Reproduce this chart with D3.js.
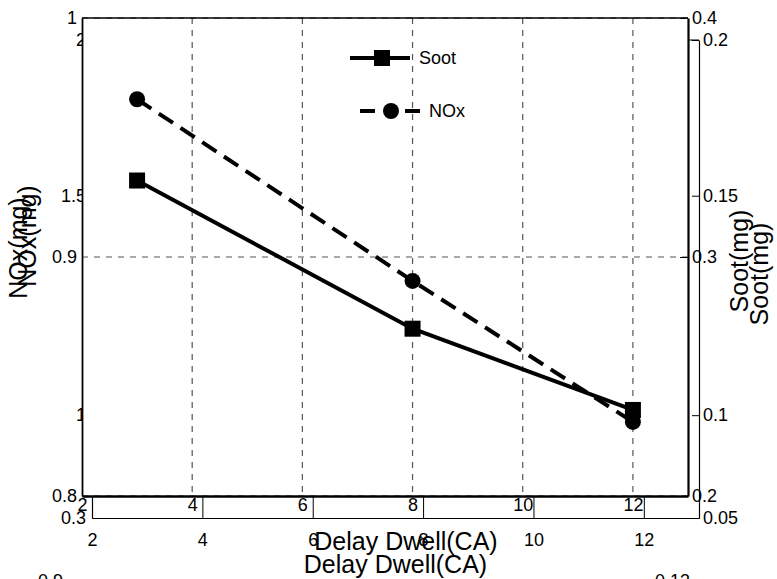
<!DOCTYPE html>
<html>
<head>
<meta charset="utf-8">
<script src="https://cdn.jsdelivr.net/npm/d3@7"></script>
<style>
  body { margin: 0; background: #fff; }
  text { font-family: "Liberation Sans", Arial, sans-serif; fill: #000; }
</style>
</head>
<body>
<div id="visualization"></div>
<script>
let w = 777;
let h = 579;

// data
let delay = [3, 8, 12];
let soot = [0.332, 0.270, 0.236];
let nox = [0.966, 0.890, 0.831];

// tick labels
let xTicks = [2, 4, 6, 8, 10, 12];
let noxTicksA = [0.8, 0.9, 1];
let sootTicksA = [0.2, 0.3, 0.4];
let noxTicksB = [1, 1.5, 2];
let sootTicksB = [0.1, 0.15, 0.2];
let bottomLabelsB = ["0.3", "0.05"];
let cutLabels = ["0.9", "0.13"];

let viz = d3.select("#visualization")
  .append("svg")
  .attr("width", w)
  .attr("height", h);

// two overlapping axes sets, like the original figure
let A = {left: 82, right: 688, top: 18, bottom: 496};
let B = {left: 92, right: 699, top: 40, bottom: 518};

let xA = d3.scaleLinear().domain([2, 13]).range([A.left, A.right]);
let yNoxA = d3.scaleLinear().domain([0.8, 1]).range([A.bottom, A.top]);
let ySootA = d3.scaleLinear().domain([0.2, 0.4]).range([A.bottom, A.top]);

let xB = d3.scaleLinear().domain([2, 13]).range([B.left, B.right]);
let yNoxB = d3.scaleLog().domain([0.827, 2]).range([B.bottom, B.top]);
let ySootB = d3.scaleLog().domain([0.0827, 0.2]).range([B.bottom, B.top]);

let fs = 18;

function styleAxis(g, sw) {
  g.select(".domain").attr("stroke", "#000").attr("stroke-width", sw);
  g.selectAll(".tick line").attr("stroke", "#000");
  g.selectAll(".tick text").style("font-size", fs + "px").attr("fill", "#000");
}

// labels of a third axes, cut by the bottom edge
viz.append("text").text(cutLabels[0])
  .attr("x", 38).attr("y", 587).style("font-size", fs + "px");
viz.append("text").text(cutLabels[1])
  .attr("x", 655).attr("y", 587).style("font-size", fs + "px");

// ---- axes B (behind, mostly hidden by axes A) ----
viz.append("g")
  .attr("transform", "translate(0," + B.bottom + ")")
  .call(d3.axisBottom(xB).tickValues(xTicks).tickSizeInner(-21).tickSizeOuter(0).tickPadding(-4))
  .call(g => styleAxis(g, 1.2))
  .call(g => g.selectAll(".tick text").attr("dy", "1.75em"));

viz.append("g")
  .attr("transform", "translate(" + B.left + ",0)")
  .call(d3.axisLeft(yNoxB).tickValues(noxTicksB).tickFormat(d3.format("")).tickSizeInner(-7).tickSizeOuter(0).tickPadding(6))
  .call(g => styleAxis(g, 1.2));

viz.append("g")
  .attr("transform", "translate(" + B.right + ",0)")
  .call(d3.axisRight(ySootB).tickValues(sootTicksB).tickFormat(d3.format("")).tickSizeInner(-7).tickSizeOuter(0).tickPadding(4))
  .call(g => styleAxis(g, 1.2));

viz.append("line")
  .attr("x1", xB(2)).attr("x2", xB(13))
  .attr("y1", B.top).attr("y2", B.top)
  .attr("stroke", "#000").attr("stroke-width", 1.2);

viz.append("text").text(bottomLabelsB[0])
  .attr("x", B.left - 6).attr("y", B.bottom).attr("dy", "0.35em")
  .attr("text-anchor", "end").style("font-size", fs + "px");
viz.append("text").text(bottomLabelsB[1])
  .attr("x", B.right + 4).attr("y", B.bottom).attr("dy", "0.35em")
  .style("font-size", fs + "px");

viz.append("text").text("Delay Dwell(CA)")
  .attr("x", (B.left + B.right) / 2).attr("y", 573).attr("text-anchor", "middle").style("font-size", "25px");
viz.append("text").text("NOx(mg)")
  .attr("transform", "translate(27,248) rotate(-90)")
  .attr("text-anchor", "middle").style("font-size", "25px");
viz.append("text").text("Soot(mg)")
  .attr("transform", "translate(768,274) rotate(-90)")
  .attr("text-anchor", "middle").style("font-size", "25px");

// white plot background of axes A
viz.append("rect")
  .attr("x", A.left).attr("y", A.top)
  .attr("width", A.right - A.left).attr("height", A.bottom - A.top)
  .attr("fill", "#fff");

// ---- grid of axes A ----
viz.append("g").selectAll("line").data(xTicks.slice(1)).enter()
  .append("line")
  .attr("x1", d => xA(d)).attr("x2", d => xA(d))
  .attr("y1", A.top).attr("y2", A.bottom)
  .attr("stroke", "#555").attr("stroke-width", 1.2)
  .attr("stroke-dasharray", "6,6");

viz.append("g").selectAll("line").data(noxTicksA).enter()
  .append("line")
  .attr("x1", A.left).attr("x2", A.right)
  .attr("y1", d => yNoxA(d)).attr("y2", d => yNoxA(d))
  .attr("stroke", "#555").attr("stroke-width", 1.2)
  .attr("stroke-dasharray", "6,6");

// ---- axes A ----
viz.append("g")
  .attr("transform", "translate(0," + A.bottom + ")")
  .call(d3.axisBottom(xA).tickValues(xTicks).tickSizeInner(0).tickSizeOuter(0).tickPadding(4))
  .call(g => styleAxis(g, 2.5))
  .call(g => g.selectAll(".tick text").attr("dy", "0.6em"));

viz.append("g")
  .attr("transform", "translate(" + A.left + ",0)")
  .call(d3.axisLeft(yNoxA).tickValues(noxTicksA).tickFormat(d3.format("")).tickSizeInner(0).tickSizeOuter(0).tickPadding(5))
  .call(g => styleAxis(g, 1.8));

viz.append("g")
  .attr("transform", "translate(" + A.right + ",0)")
  .call(d3.axisRight(ySootA).tickValues(sootTicksA).tickFormat(d3.format("")).tickSizeInner(-8).tickSizeOuter(0).tickPadding(4))
  .call(g => styleAxis(g, 2.2));

viz.append("line")
  .attr("x1", A.left).attr("x2", A.right)
  .attr("y1", A.top).attr("y2", A.top)
  .attr("stroke", "#000").attr("stroke-width", 1.5);

viz.append("text").text("Delay Dwell(CA)")
  .attr("x", 406).attr("y", 550).attr("text-anchor", "middle").style("font-size", "25px");
viz.append("text").text("NOx(mg)")
  .attr("transform", "translate(36,236) rotate(-90)")
  .attr("text-anchor", "middle").style("font-size", "25px");
viz.append("text").text("Soot(mg)")
  .attr("transform", "translate(748,261) rotate(-90)")
  .attr("text-anchor", "middle").style("font-size", "25px");

// ---- data ----
let sootLine = d3.line().x((d, i) => xA(delay[i])).y(d => ySootA(d));
let noxLine = d3.line().x((d, i) => xA(delay[i])).y(d => yNoxA(d));

viz.append("path").datum(nox)
  .attr("d", noxLine)
  .attr("fill", "none").attr("stroke", "#000").attr("stroke-width", 4)
  .attr("stroke-dasharray", "17,9");

viz.append("path").datum(soot)
  .attr("d", sootLine)
  .attr("fill", "none").attr("stroke", "#000").attr("stroke-width", 4);

viz.selectAll(".noxpoint").data(nox).enter()
  .append("circle")
  .attr("class", "noxpoint")
  .attr("cx", (d, i) => xA(delay[i]))
  .attr("cy", d => yNoxA(d))
  .attr("r", 8)
  .attr("fill", "#000");

let sq = 16;
viz.selectAll(".sootpoint").data(soot).enter()
  .append("rect")
  .attr("class", "sootpoint")
  .attr("x", (d, i) => xA(delay[i]) - sq / 2)
  .attr("y", d => ySootA(d) - sq / 2)
  .attr("width", sq).attr("height", sq)
  .attr("fill", "#000");

// ---- legend ----
let legend = viz.append("g");
legend.append("line")
  .attr("x1", 350).attr("x2", 410).attr("y1", 58).attr("y2", 58)
  .attr("stroke", "#000").attr("stroke-width", 4);
legend.append("rect")
  .attr("x", 382 - sq / 2).attr("y", 58 - sq / 2)
  .attr("width", sq).attr("height", sq).attr("fill", "#000");
legend.append("text").text("Soot")
  .attr("x", 419).attr("y", 58).attr("dy", "0.35em").style("font-size", fs + "px");

legend.append("line")
  .attr("x1", 360).attr("x2", 420).attr("y1", 111).attr("y2", 111)
  .attr("stroke", "#000").attr("stroke-width", 4)
  .attr("stroke-dasharray", "15,16,0,14,15");
legend.append("circle")
  .attr("cx", 391).attr("cy", 111).attr("r", 8).attr("fill", "#000");
legend.append("text").text("NOx")
  .attr("x", 429).attr("y", 111).attr("dy", "0.35em").style("font-size", fs + "px");
</script>
</body>
</html>
